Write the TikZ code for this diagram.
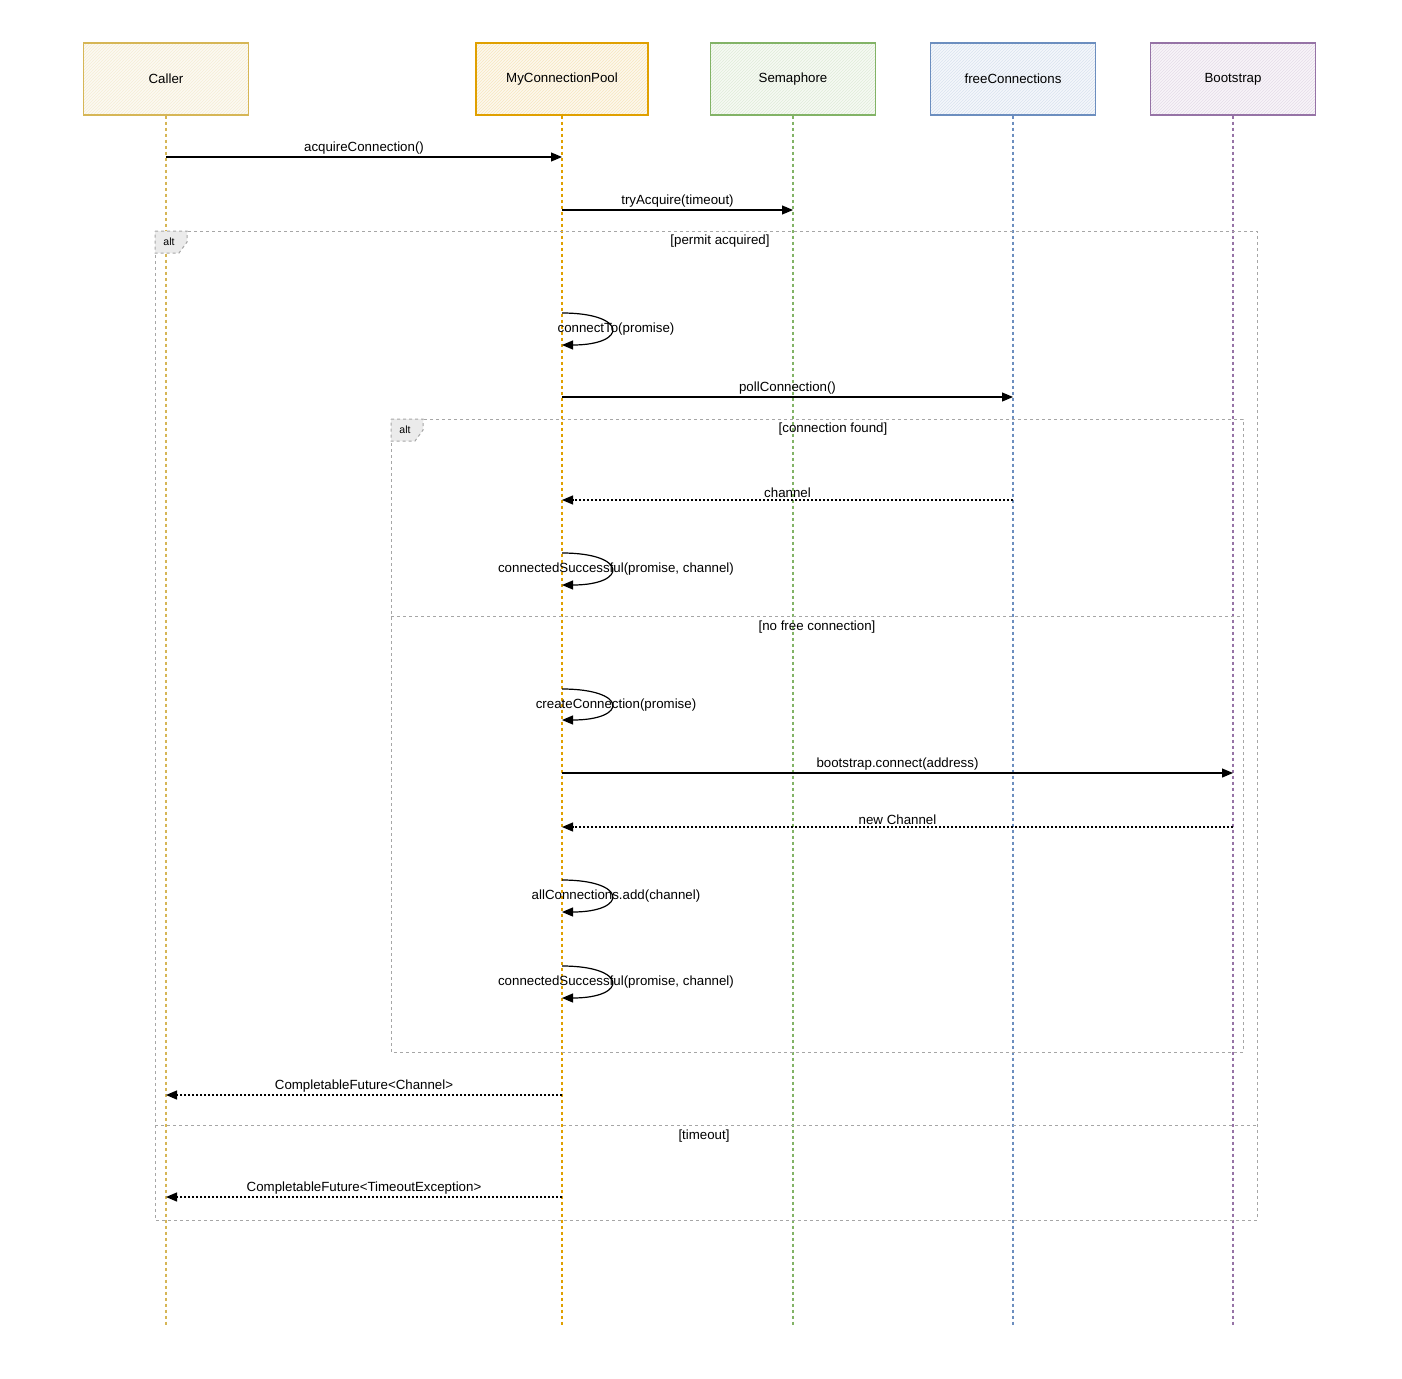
\documentclass[tikz,border=0pt]{standalone}
\usepackage{fontspec}
\setmainfont{Liberation Sans}
\usepackage{tikz}
\usepackage{xcolor}
\usetikzlibrary{arrows.meta, patterns, positioning}

\definecolor{callercol}{HTML}{D6B656}
\definecolor{poolcol}{HTML}{E0A000}
\definecolor{semcol}{HTML}{82B366}
\definecolor{freecol}{HTML}{6C8EBF}
\definecolor{bootcol}{HTML}{9673A6}
\definecolor{framecol}{HTML}{A6A6A6}

\begin{document}
\begin{tikzpicture}[x=1pt, y=-1pt, font=\fontsize{13.3}{16}\selectfont,
    actor/.style={draw=#1, line width=1.2pt, minimum width=165pt, minimum height=72pt,
        preaction={fill=#1!7}, pattern=north east lines, pattern color=#1!25},
    life/.style={draw=#1, dashed, line width=1.4pt},
    msg/.style={-{Triangle[length=11pt,width=9pt]}, line width=1.2pt},
    reply/.style={msg, dash pattern=on 2.5pt off 1.5pt},
    lbl/.style={above, inner sep=2pt},
    frame/.style={draw=framecol, dashed, line width=1pt},
    tag/.style={frame, fill=black!8}]
    \useasboundingbox (0,0) rectangle (1402,1378);

    \node[actor=callercol] (caller) at (166,79) {Caller};
    \node[actor=poolcol, minimum width=172pt] (pool) at (562,79) {MyConnectionPool};
    \node[actor=semcol] (sem) at (793,79) {Semaphore};
    \node[actor=freecol] (free) at (1013,79) {freeConnections};
    \node[actor=bootcol] (boot) at (1233,79) {Bootstrap};

    \coordinate (caller-end) at (166,1325);
    \coordinate (pool-end) at (562,1325);
    \coordinate (sem-end) at (793,1325);
    \coordinate (free-end) at (1013,1325);
    \coordinate (boot-end) at (1233,1325);
    \draw[life=callercol] (caller) -- (caller-end);
    \draw[life=poolcol] (pool) -- (pool-end);
    \draw[life=semcol] (sem) -- (sem-end);
    \draw[life=freecol] (free) -- (free-end);
    \draw[life=bootcol] (boot) -- (boot-end);

    % outer alt
    \draw[frame] (155,231) rectangle (1257,1220);
    \draw[tag] (155,231) -- (187,231) -- (187,242) -- (179,253) -- (155,253) -- cycle;
    \node[font=\fontsize{10.5}{12}\selectfont] (alt-outer) at (169,242) {alt};
    \node (cond-permit) at (720,241) {[permit acquired]};
    \draw[frame] (155,1125) -- (1257,1125);
    \node (cond-timeout) at (704,1136) {[timeout]};

    % inner alt
    \draw[frame] (391,419) rectangle (1243,1052);
    \draw[tag] (391,419) -- (423,419) -- (423,430) -- (415,441) -- (391,441) -- cycle;
    \node[font=\fontsize{10.5}{12}\selectfont] (alt-inner) at (405,430) {alt};
    \node (cond-found) at (833,429) {[connection found]};
    \draw[frame] (391,616) -- (1243,616);
    \node (cond-nofree) at (817,627) {[no free connection]};

    \draw[msg] (caller |- 0,157) -- node[lbl] (m-acquire) {acquireConnection()} (pool |- 0,157);
    \draw[msg] (pool |- 0,210) -- node[lbl] (m-try) {tryAcquire(timeout)} (sem |- 0,210);

    \draw[msg] (pool |- 0,313) .. controls (628,313) and (628,345) .. (pool |- 0,345);
    \node (m-connect) at (616,329) {connectTo(promise)};

    \draw[msg] (pool |- 0,397) -- node[lbl] (m-poll) {pollConnection()} (free |- 0,397);
    \draw[reply] (free |- 0,500) -- node[lbl] (m-channel) {channel} (pool |- 0,500);

    \draw[msg] (pool |- 0,553) .. controls (628,553) and (628,585) .. (pool |- 0,585);
    \node (m-success1) at (616,569) {connectedSuccessful(promise, channel)};

    \draw[msg] (pool |- 0,689) .. controls (628,689) and (628,720) .. (pool |- 0,720);
    \node (m-create) at (616,705) {createConnection(promise)};

    \draw[msg] (pool |- 0,773) -- node[lbl] (m-boot) {bootstrap.connect(address)} (boot |- 0,773);
    \draw[reply] (boot |- 0,827) -- node[lbl] (m-new) {new Channel} (pool |- 0,827);

    \draw[msg] (pool |- 0,880) .. controls (628,880) and (628,912) .. (pool |- 0,912);
    \node (m-add) at (616,896) {allConnections.add(channel)};

    \draw[msg] (pool |- 0,966) .. controls (628,966) and (628,998) .. (pool |- 0,998);
    \node (m-success2) at (616,982) {connectedSuccessful(promise, channel)};

    \draw[reply] (pool |- 0,1095) -- node[lbl] (m-future) {CompletableFuture<Channel>} (caller |- 0,1095);
    \draw[reply] (pool |- 0,1197) -- node[lbl] (m-timeout) {CompletableFuture<TimeoutException>} (caller |- 0,1197);
\end{tikzpicture}
\end{document}
